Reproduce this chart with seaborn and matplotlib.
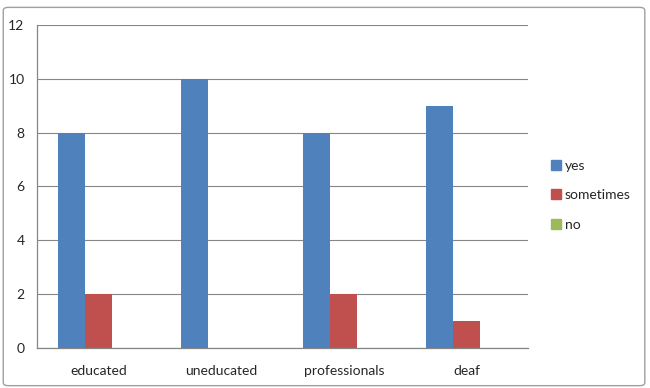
import pandas as pd
import matplotlib
matplotlib.use("Agg")
import matplotlib.pyplot as plt
import seaborn as sns
from matplotlib.lines import Line2D
from matplotlib.patches import FancyBboxPatch

categories = ['educated', 'uneducated', 'professionals', 'deaf']
yes = [8, 10, 8, 9]
sometimes = [2, 0, 2, 1]
no = [0, 0, 0, 0]
series = ['yes', 'sometimes', 'no']
colors = ['#4F81BD', '#C0504D', '#9BBB59']

rows = []
for name, vals in zip(series, [yes, sometimes, no]):
    for c, v in zip(categories, vals):
        rows.append({'cat': c, 'answer': name, 'value': v})
df = pd.DataFrame(rows)

sns.set_theme(style='white')
plt.rcParams['font.family'] = ['Lato', 'DejaVu Sans']

fig = plt.figure(figsize=(6.5, 3.88), dpi=100)
ax = fig.add_axes([0.0569, 0.1031, 0.7554, 0.8325])

sns.barplot(data=df, x='cat', y='value', hue='answer', palette=colors,
            width=0.66, saturation=1, ax=ax, legend=False, errorbar=None,
            linewidth=0)

grid = '#868686'
ax.set_ylim(0, 12)
ax.set_xlim(-0.5, 3.5)
ax.set_yticks(range(0, 13, 2))
ax.yaxis.grid(True, color=grid, linewidth=0.8)
ax.set_axisbelow(True)
for s in ['top', 'right']:
    ax.spines[s].set_visible(False)
for s in ['left', 'bottom']:
    ax.spines[s].set_color(grid)
    ax.spines[s].set_linewidth(0.9)
ax.set_xlabel('')
ax.set_ylabel('')
ax.tick_params(axis='y', length=4, color=grid, width=0.8, labelsize=10, pad=5)
ax.tick_params(axis='x', which='major', length=0, labelsize=10, pad=12)
ax.set_xticks([-0.5, 0.5, 1.5, 2.5, 3.5], minor=True)
ax.tick_params(axis='x', which='minor', length=4, color=grid, width=0.8, direction='out')

handles = [Line2D([], [], marker='s', linestyle='', markersize=7, color=c) for c in colors]
fig.legend(handles, series, loc='center left', bbox_to_anchor=(0.826, 0.497),
           frameon=False, fontsize=10, labelspacing=1.25, handletextpad=0.1,
           handlelength=1.0)

fig.patches.append(FancyBboxPatch((0.005, 0.006), 0.987, 0.975, boxstyle='round,pad=0,rounding_size=0.008',
                                  transform=fig.transFigure, fill=False,
                                  edgecolor='#A0A0A0', linewidth=1.0))

fig.savefig('out.png', dpi=100)
